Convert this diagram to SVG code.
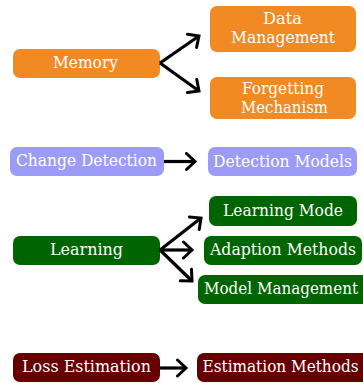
<svg xmlns="http://www.w3.org/2000/svg" width="363" height="383" viewBox="0 0 363 383">
<defs>
<marker id="ah" viewBox="-12 -10 16 20" refX="0" refY="0" markerWidth="16" markerHeight="20" orient="auto" markerUnits="userSpaceOnUse">
<path d="M-8.5,-8 L0,0 L-8.5,8" fill="none" stroke="#000" stroke-width="3" stroke-linecap="round" stroke-linejoin="miter"/>
</marker>
<style>
text{font-family:"DejaVu Serif","Liberation Serif",serif;font-size:16px;fill:#fff;text-anchor:middle}
.or{fill:#f28a24}.pu{fill:#9c9cf8}.gr{fill:#006400}.rd{fill:#660000}
.c{fill:none;stroke:#000;stroke-width:3.2;marker-end:url(#ah)}
</style>
</defs>
<g id="memory"><rect class="or" x="13" y="49" width="147" height="29" rx="7"/><text x="85.5" y="68" textLength="65" lengthAdjust="spacingAndGlyphs">Memory</text></g>
<g id="data-management"><rect class="or" x="210" y="6" width="146" height="46" rx="7"/><text x="282.5" y="24" textLength="39" lengthAdjust="spacingAndGlyphs">Data</text><text x="283" y="43" textLength="104" lengthAdjust="spacingAndGlyphs">Management</text></g>
<g id="forgetting-mechanism"><rect class="or" x="210" y="77" width="146" height="42" rx="7"/><text x="283" y="94" textLength="82" lengthAdjust="spacingAndGlyphs">Forgetting</text><text x="284.5" y="113" textLength="87" lengthAdjust="spacingAndGlyphs">Mechanism</text></g>
<g id="change-detection"><rect class="pu" x="10" y="147" width="154" height="29" rx="7"/><text x="86.5" y="165.5" textLength="141" lengthAdjust="spacingAndGlyphs">Change Detection</text></g>
<g id="detection-models"><rect class="pu" x="208" y="147" width="149" height="29" rx="7"/><text x="282.5" y="167" textLength="139" lengthAdjust="spacingAndGlyphs">Detection Models</text></g>
<g id="learning-mode"><rect class="gr" x="209" y="196" width="148" height="30" rx="7"/><text x="283" y="215.5" textLength="120" lengthAdjust="spacingAndGlyphs">Learning Mode</text></g>
<g id="learning"><rect class="gr" x="13" y="236" width="147" height="29" rx="7"/><text x="86.5" y="255" textLength="73" lengthAdjust="spacingAndGlyphs">Learning</text></g>
<g id="adaption-methods"><rect class="gr" x="204" y="236" width="158" height="29" rx="7"/><text x="283" y="255" textLength="146" lengthAdjust="spacingAndGlyphs">Adaption Methods</text></g>
<g id="model-management"><rect class="gr" x="198" y="275" width="172" height="29" rx="7"/><text x="281" y="294" textLength="154" lengthAdjust="spacingAndGlyphs">Model Management</text></g>
<g id="loss-estimation"><rect class="rd" x="13" y="353" width="147" height="29" rx="7"/><text x="86.5" y="372" textLength="129" lengthAdjust="spacingAndGlyphs">Loss Estimation</text></g>
<g id="estimation-methods"><rect class="rd" x="197" y="353" width="172" height="29" rx="7"/><text x="280.5" y="372" textLength="156" lengthAdjust="spacingAndGlyphs">Estimation Methods</text></g>
<g id="connectors">
<path class="c" d="M160,63 L199,36"/>
<path class="c" d="M160,63 L199,91"/>
<path class="c" d="M164,161.5 L195,161.5"/>
<path class="c" d="M160,250 L201,218"/>
<path class="c" d="M160,250 L192,250"/>
<path class="c" d="M160,250 L192,281"/>
<path class="c" d="M160,368 L186,368"/>
</g>
</svg>
